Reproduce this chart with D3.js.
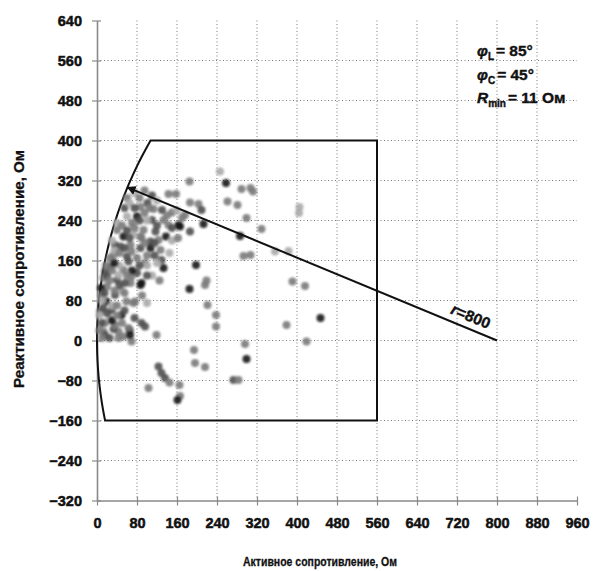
<!DOCTYPE html>
<html><head><meta charset="utf-8">
<script src="https://cdn.jsdelivr.net/npm/d3@7"></script>
<style>
body{margin:0;background:#fff;}
svg text{font-family:"Liberation Sans",Arial,sans-serif;font-weight:bold;fill:#111;}
</style>
</head><body>
<svg id="chart" width="597" height="571"></svg>
<script>
// ---- data ----
const xTicks = [0, 80, 160, 240, 320, 400, 480, 560, 640, 720, 800, 880, 960];
const yTicks = [-320, -240, -160, -80, 0, 80, 160, 240, 320, 400, 480, 560, 640];
const xTitle = "Активное сопротивление, Ом";
const yTitle = "Реактивное сопротивление, Ом";
const zoneRadius = 800, zoneCenterX = 800, zoneTop = 400, zoneBottom = -160, zoneRight = 560;
const reachAngleDeg = 22.5;
const reachLabel = "800";
const paramNames = ["φ", "φ", "R"];
const paramSubs = ["L", "C", "min"];
const paramValues = ["= 85°", "= 45°", "= 11 Ом"];

const pointX = [246,185,258,289,307,312,143,158,261,281,186,203,209,176,166,213,186,138,299,286,329,293,307,356,383,405,404,198,133,129,391,416,447,379,419,296,299,273,283,185,216,219,221,238,238,194,196,216,123,129,136,145,103,165,166,161,89,96,119,65,53,69,43,33,89,73,59,16,13,101,87,113,130,150,163,143,133,110,80,70,60,93,117,123,107,87,73,53,40,47,67,87,107,127,33,60,80,27,53,80,13,40,67,87,20,89,69,36,26,63,96,16,43,69,56,9,36,76,6,29,9,36,63,43,16,8,19,49,66,60,75,95,110,120,100,55,65,30,40,35,45,18,10,5,12,25,50,30,90,100,110,150,160,170,120,145,100,5,162,
  20,30,45,55,65,75,85,95,50,60,35,25,45,55,40,20,30,50,75,15,85,100,115,95,120,140,75,85,105,70,10,25,55,40,115,150,60,100,125,35];
const pointY = [338,318,315,303,305,298,293,293,278,271,276,273,261,251,228,233,218,208,245,209,223,169,171,178,179,267,255,151,145,161,118,109,45,31,-2,-7,-37,-79,-79,103,111,120,71,51,28,-19,-45,-53,-52,-65,-75,-84,-95,-89,-111,-119,35,28,11,21,8,-2,18,23,115,75,78,35,18,275,267,263,261,256,231,231,241,241,248,235,248,221,218,201,198,208,211,208,221,188,191,185,185,181,171,168,165,148,141,135,125,121,115,111,108,205,178,191,165,158,155,138,131,128,115,91,91,78,58,61,35,31,25,5,11,105,78,51,11,285,295,300,290,280,240,265,275,200,235,180,150,150,80,50,65,45,100,70,90,75,130,200,260,245,155,175,150,20,205,
  130,140,175,185,205,225,240,255,230,220,155,120,110,95,70,55,40,35,45,95,150,170,195,195,230,250,265,285,265,140,5,5,60,50,170,225,130,130,120,100];
const pointLevel = [1,2,4,2,2,2,2,2,2,2,2,2,3,2,4,4,3,4,2,4,2,2,2,1,1,1,1,4,4,3,2,2,4,2,2,2,4,3,2,4,2,2,2,2,2,2,2,2,3,3,3,2,2,2,2,4,3,3,2,4,2,2,2,3,4,2,2,2,2,3,2,2,3,2,4,2,2,3,4,2,1,2,3,2,3,2,1,4,2,3,2,3,4,2,2,3,2,3,2,3,2,3,2,4,2,2,2,3,2,3,2,3,1,2,3,2,3,2,2,3,3,2,2,2,3,4,4,4,4,2,1,2,3,1,1,3,1,1,1,1,1,2,1,1,3,1,1,1,2,1,1,1,1,2,1,1,1,2,2,
  3,2,2,3,3,2,3,2,2,3,4,2,3,2,2,3,4,2,3,3,3,2,3,2,3,2,3,2,2,4,2,3,3,2,3,3,2,3,2,2];

// ---- drawing ----
const svg = d3.select("#chart");
const x = d3.scaleLinear().domain([0, 960]).range([97, 577]);
const y = d3.scaleLinear().domain([-320, 640]).range([500.5, 20.5]);
const shade = d3.scaleOrdinal().domain([1, 2, 3, 4]).range(["#aaaaaa", "#7a7a7a", "#505050", "#151515"]);

const defs = svg.append("defs");
defs.append("filter").attr("id", "soft").attr("x", "-50%").attr("y", "-50%").attr("width", "200%").attr("height", "200%")
  .append("feGaussianBlur").attr("stdDeviation", 0.8);
defs.append("marker").attr("id", "arrow").attr("viewBox", "0 0 10 10").attr("refX", 9).attr("refY", 5)
  .attr("markerWidth", 4.5).attr("markerHeight", 4.5).attr("orient", "auto")
  .append("path").attr("d", "M0,0L10,5L0,10z").attr("fill", "#111");

// grid
const grid = svg.append("g").attr("stroke", "#7a7a7a").attr("stroke-width", 1).attr("stroke-dasharray", "1,2.5");
grid.selectAll("line.v").data(xTicks.filter(d => d > 0 && d < 960)).join("line").attr("class", "v")
  .attr("x1", d => x(d)).attr("x2", d => x(d)).attr("y1", y(640)).attr("y2", y(-320));
grid.selectAll("line.h").data(yTicks.filter(d => d > -320 && d < 640)).join("line").attr("class", "h")
  .attr("y1", d => y(d)).attr("y2", d => y(d)).attr("x1", x(0)).attr("x2", x(960));

// axes
const yAxis = d3.axisLeft(y).tickValues(yTicks).tickSizeInner(-5).tickSizeOuter(0).tickPadding(15);
const xAxis = d3.axisBottom(x).tickValues(xTicks).tickSizeInner(-5).tickSizeOuter(0).tickPadding(23);
const gy = svg.append("g").attr("transform", `translate(${x(0)},0)`).call(yAxis);
const gx = svg.append("g").attr("transform", `translate(0,${y(-320)})`).call(xAxis);
[gy, gx].forEach(g => {
  g.select(".domain").attr("stroke", "#8a8a8a").attr("stroke-width", 1.6);
  g.selectAll(".tick line").attr("stroke", "#8a8a8a").attr("stroke-width", 1.2);
  g.selectAll(".tick text").attr("font-size", 14.5).attr("font-weight", "bold").attr("fill", "#111")
    .attr("stroke", "#111").attr("stroke-width", 0.5)
    .attr("font-family", "'Liberation Sans',Arial,sans-serif");
});
gy.selectAll(".tick line").attr("x1", -5).attr("x2", 4);
gx.selectAll(".tick line").attr("y1", -4).attr("y2", 5);
gx.selectAll(".tick text").attr("dy", "0.3em");

// axis titles
svg.append("text").attr("x", 320).attr("y", 566).attr("text-anchor", "middle").attr("font-size", 13)
  .attr("stroke", "#111").attr("stroke-width", 0.3)
  .attr("textLength", 154).attr("lengthAdjust", "spacingAndGlyphs").text(xTitle);
svg.append("text").attr("transform", "translate(24,269) rotate(-90)").attr("text-anchor", "middle").attr("font-size", 14)
  .attr("stroke", "#111").attr("stroke-width", 0.3)
  .attr("textLength", 238).attr("lengthAdjust", "spacingAndGlyphs").text(yTitle);

// operating zone boundary
const aBottom = Math.asin(zoneBottom / zoneRadius), aTop = Math.asin(zoneTop / zoneRadius);
const arcPts = d3.range(0, 61).map(i => {
  const a = aBottom + (aTop - aBottom) * i / 60;
  return [zoneCenterX - zoneRadius * Math.cos(a), zoneRadius * Math.sin(a)];
});
const zonePts = arcPts.concat([[zoneRight, zoneTop], [zoneRight, zoneBottom]]);
svg.append("path").datum(zonePts)
  .attr("d", d3.line().x(d => x(d[0])).y(d => y(d[1])).curve(d3.curveLinearClosed))
  .attr("fill", "none").attr("stroke", "#111").attr("stroke-width", 2);

// points
svg.append("g").attr("filter", "url(#soft)").selectAll("circle").data(pointX.map((v, i) => i)).join("circle")
  .attr("cx", i => x(pointX[i])).attr("cy", i => y(pointY[i])).attr("r", 4)
  .attr("fill", i => shade(pointLevel[i])).attr("fill-opacity", 0.9);

// radius line
const ra = reachAngleDeg * Math.PI / 180;
const rEnd = [zoneCenterX - zoneRadius * Math.cos(ra), zoneRadius * Math.sin(ra)];
svg.append("line").attr("x1", x(zoneCenterX)).attr("y1", y(0)).attr("x2", x(rEnd[0])).attr("y2", y(rEnd[1]))
  .attr("stroke", "#111").attr("stroke-width", 2).attr("marker-end", "url(#arrow)");
const lx = 738, ly = (zoneCenterX - lx) * Math.tan(ra);
const rl = svg.append("text").attr("transform", `translate(${x(lx)},${y(ly)}) rotate(${reachAngleDeg})`)
  .attr("y", -7).attr("text-anchor", "middle").attr("font-size", 15.5)
  .attr("stroke", "#111").attr("stroke-width", 0.4);
rl.append("tspan").attr("font-style", "italic").text("r");
rl.append("tspan").text("=" + reachLabel);

// parameters
paramNames.forEach((n, i) => {
  const t = svg.append("text").attr("x", 477).attr("y", 56 + i * 23.5).attr("font-size", 15.5)
    .attr("stroke", "#111").attr("stroke-width", 0.4);
  t.append("tspan").attr("font-style", "italic").text(n);
  t.append("tspan").attr("font-size", 10).attr("dy", 4).text(paramSubs[i]);
  t.append("tspan").attr("dy", -4).attr("dx", 2).text(paramValues[i]);
});
</script>
</body></html>
